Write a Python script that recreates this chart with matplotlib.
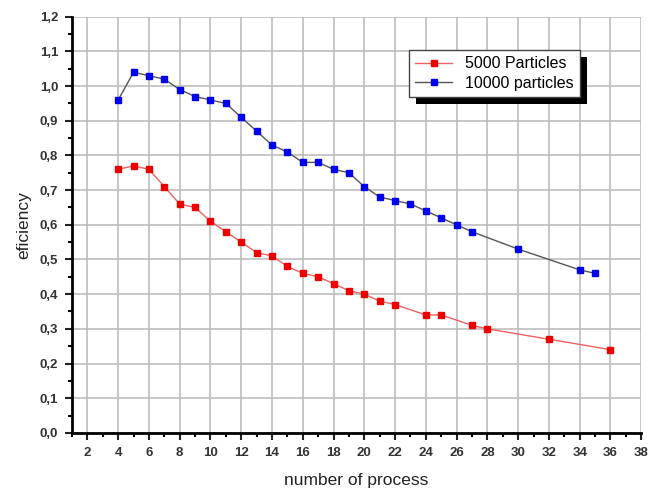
import matplotlib
matplotlib.use("Agg")
import matplotlib.pyplot as plt
from matplotlib.ticker import MultipleLocator, FuncFormatter
import matplotlib.patheffects as pe

plt.rcParams["font.family"] = ["Liberation Sans", "DejaVu Sans"]

# Data
x_5000 = [4, 5, 6, 7, 8, 9, 10, 11, 12, 13, 14, 15, 16, 17, 18, 19, 20, 21, 22, 24, 25, 27, 28, 32, 36]
y_5000 = [0.76, 0.77, 0.76, 0.71, 0.66, 0.65, 0.61, 0.58, 0.55, 0.52, 0.51, 0.48, 0.46, 0.45,
          0.43, 0.41, 0.40, 0.38, 0.37, 0.34, 0.34, 0.31, 0.30, 0.27, 0.24]

x_10000 = [4, 5, 6, 7, 8, 9, 10, 11, 12, 13, 14, 15, 16, 17, 18, 19, 20, 21, 22, 23, 24, 25, 26, 27, 30, 34, 35]
y_10000 = [0.96, 1.04, 1.03, 1.02, 0.99, 0.97, 0.96, 0.95, 0.91, 0.87, 0.83, 0.81, 0.78, 0.78,
           0.76, 0.75, 0.71, 0.68, 0.67, 0.66, 0.64, 0.62, 0.60, 0.58, 0.53, 0.47, 0.46]

labels = ["5000 Particles", "10000 particles"]

fig = plt.figure(figsize=(6.49, 4.93), dpi=100)
ax = fig.add_axes([0.111, 0.122, 0.877, 0.844])

ax.plot(x_5000, y_5000, color="#f06060", lw=1.0, marker="s", ms=3.8,
        mfc="#ee0000", mec="#ee0000", label=labels[0])
ax.plot(x_10000, y_10000, color="#555555", lw=1.0, marker="s", ms=3.8,
        mfc="#0000ee", mec="#0000ee", label=labels[1])

ax.set_xlim(1, 38)
ax.set_ylim(0, 1.2)
ax.xaxis.set_major_locator(MultipleLocator(2))
ax.xaxis.set_minor_locator(MultipleLocator(1))
ax.yaxis.set_major_locator(MultipleLocator(0.1))
ax.yaxis.set_minor_locator(MultipleLocator(0.05))
ax.yaxis.set_major_formatter(FuncFormatter(lambda v, p: f"{v:.1f}".replace(".", ",")))

ax.grid(True, which="major", color="#bdbdbd", lw=1.2)
ax.set_axisbelow(True)

for s in ["top", "right"]:
    ax.spines[s].set_visible(False)
for s in ["left", "bottom"]:
    ax.spines[s].set_linewidth(2.0)

ax.tick_params(which="major", direction="out", length=5, width=1.5, labelsize=9.5,
               colors="#222222", pad=5)
ax.tick_params(which="minor", direction="out", length=3, width=1.5)
for lab in ax.get_xticklabels() + ax.get_yticklabels():
    lab.set_fontweight("bold")
    lab.set_color("#333333")

ax.set_xlabel("number of process", fontsize=12.5, color="#222222", labelpad=10)
ax.set_ylabel("eficiency", fontsize=12.5, color="#222222", labelpad=6)

leg = ax.legend(loc="upper left", bbox_to_anchor=(0.578, 0.94), fontsize=11.5,
                frameon=True, fancybox=False, shadow=False, borderpad=0.4,
                handlelength=2.3, labelspacing=0.3, framealpha=1)
frame = leg.get_frame()
frame.set_edgecolor("#444444")
frame.set_linewidth(1.0)
frame.set_path_effects([pe.SimplePatchShadow(offset=(5, -5), shadow_rgbFace="black", alpha=1),
                        pe.Normal()])

fig.savefig("out.png", dpi=100)
